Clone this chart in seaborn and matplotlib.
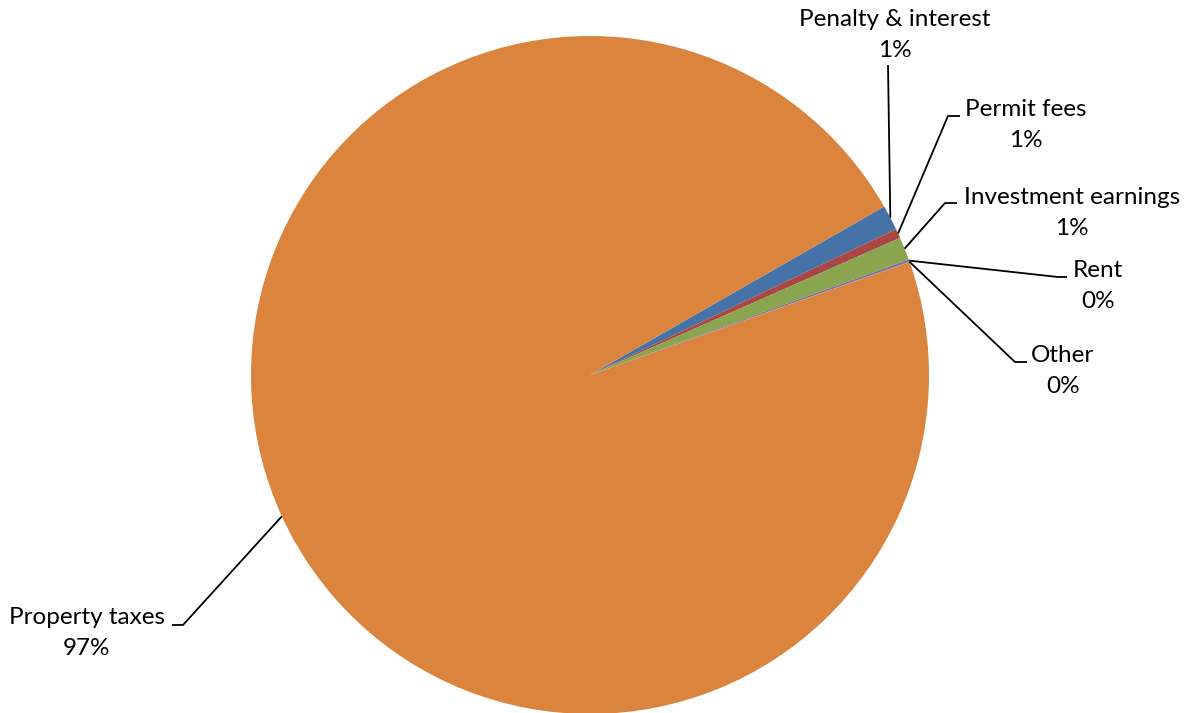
import numpy as np
import matplotlib
matplotlib.use("Agg")
import matplotlib.pyplot as plt
import seaborn as sns

# ---- data ----
categories = ["Penalty & interest", "Permit fees", "Investment earnings", "Rent", "Other", "Property taxes"]
values = [1.2, 0.45, 1.1, 0.1, 0.02, 97.13]
pct_labels = ["1%", "1%", "1%", "0%", "0%", "97%"]
colors = ["#4572A7", "#AA4643", "#89A54E", "#80699B", "#3D96AE", "#DB843D"]

sns.set_theme(style="white")
plt.rcParams['font.family'] = ['Lato', 'DejaVu Sans']

W, H = 1193, 713
fig = plt.figure(figsize=(W / 100, H / 100), dpi=100)
ax = fig.add_axes([0, 0, 1, 1])

cx, cy, R = 590, H - 375, 339
wedges, _ = ax.pie(values, colors=sns.color_palette(colors), startangle=29.8,
                   counterclock=False, center=(cx, cy), radius=R, frame=True,
                   wedgeprops=dict(linewidth=0))
ax.set_xlim(0, W)
ax.set_ylim(0, H)
ax.set_aspect("equal")
ax.axis("off")

# layout (image coords, y down): label centre, leader-line path after wedge edge
label_pos = [(895, 35), (1026, 125), (1072, 213), (1098, 286), (1063, 371), (87, 633)]
leader_paths = [
    [(888, 65)],
    [(948, 116), (960, 116)],
    [(945, 203), (957, 203)],
    [(1058, 277), (1067, 277)],
    [(1015, 362), (1027, 362)],
    [(183, 625), (172, 625)],
]

for w, name, pct, (lx, ly), path in zip(wedges, categories, pct_labels, label_pos, leader_paths):
    mid = np.deg2rad((w.theta1 + w.theta2) / 2)
    ex, ey = cx + R * np.cos(mid), cy + R * np.sin(mid)
    xs = [ex] + [p[0] for p in path]
    ys = [ey] + [H - p[1] for p in path]
    ax.plot(xs, ys, color="black", lw=1.3, solid_capstyle="butt")
    ax.text(lx, H - ly, f"{name}\n{pct}", ha="center", va="center",
            fontsize=17.5, color="black", linespacing=1.55, multialignment="center")

fig.savefig("out.png", dpi=100)
